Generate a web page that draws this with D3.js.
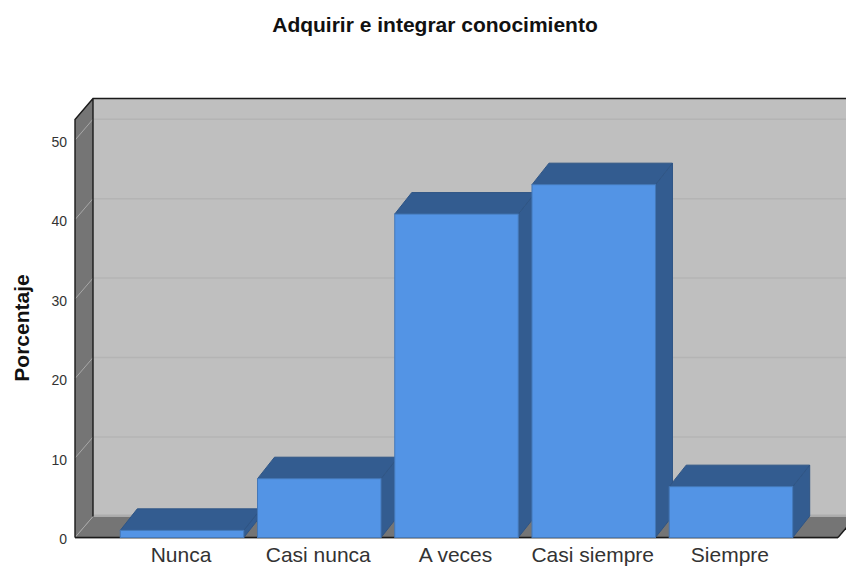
<!DOCTYPE html>
<html><head><meta charset="utf-8">
<script src="https://cdn.jsdelivr.net/npm/d3@7"></script>
<style>html,body{margin:0;padding:0;background:#fff}svg{display:block}text{font-family:"Liberation Sans",Arial,sans-serif}</style>
</head><body><svg id="c" width="846" height="567"></svg>
<script>
const categories = ["Nunca","Casi nunca","A veces","Casi siempre","Siempre"];
const values = [0.9,7.4,40.7,44.4,6.4];
const yTicks = [0,10,20,30,40,50];
const yTitle = "Porcentaje";
const chartTitle = "Adquirir e integrar conocimiento";

const dx = 18, dy = -21, barDx = 17, barDy = -21.5;
const svg = d3.select("#c");
const x = d3.scaleBand().domain(categories).range([75,838]).paddingInner(0.1).paddingOuter(0.33);
const y = d3.scaleLinear().domain([0,52.6]).range([537.5,119.5]);
const y0 = y(0), yT = y(52.6), xL = 75, xR = 838;
const poly = p => p.map(q=>q.join(",")).join(" ");

svg.append("polygon").attr("points",poly([[xL+dx,yT+dy],[xR+dx,yT+dy],[xR+dx,y0+dy],[xL+dx,y0+dy]])).attr("fill","#bfbfbf");
svg.append("polygon").attr("points",poly([[xL,yT],[xL+dx,yT+dy],[xL+dx,y0+dy],[xL,y0]])).attr("fill","#757575");
svg.append("polygon").attr("points",poly([[xL,y0],[xL+dx,y0+dy],[xR+dx,y0+dy],[xR,y0]])).attr("fill","#757575");
svg.append("line").attr("x1",xL+dx+1).attr("x2",xR+dx).attr("y1",y0+dy-1).attr("y2",y0+dy-1).attr("stroke","#adadad").attr("stroke-width",2);
yTicks.forEach(t=>{
  svg.append("line").attr("x1",xL).attr("y1",y(t)).attr("x2",xL+dx).attr("y2",y(t)+dy).attr("stroke","#a8a8a8").attr("stroke-width",1);
  if(t>0) svg.append("line").attr("x1",xL+dx).attr("y1",y(t)+dy).attr("x2",xR+dx).attr("y2",y(t)+dy).attr("stroke","#b4b4b4").attr("stroke-width",1.5);
});
const frame = "#1a1a1a";
svg.append("path").attr("fill","none").attr("stroke",frame).attr("stroke-width",1.4)
  .attr("d",`M${xL},${y0}L${xL},${yT}L${xL+dx},${yT+dy}L${xR+dx},${yT+dy}M${xL+dx},${yT+dy}L${xL+dx},${y0+dy}`);
svg.append("line").attr("x1",xL).attr("x2",xR).attr("y1",y0).attr("y2",y0).attr("stroke",frame).attr("stroke-width",1.4);
svg.append("line").attr("x1",xR).attr("x2",xR+dx).attr("y1",y0).attr("y2",y0+dy).attr("stroke",frame).attr("stroke-width",1.4);
svg.append("line").attr("x1",xL).attr("x2",xR).attr("y1",y0+1).attr("y2",y0+1).attr("stroke","#a0a0a0").attr("stroke-width",1);

const bars = svg.selectAll("g.bar").data(categories.map((c,i)=>({c,v:values[i]}))).join("g").attr("class","bar");
bars.append("polygon").attr("fill","#335c90").attr("stroke","#2f5585").attr("stroke-width",1)
  .attr("points",d=>{const a=x(d.c),b=a+x.bandwidth(),t=y(d.v);return poly([[b,t],[b+barDx,t+barDy],[b+barDx,y0+barDy],[b,y0]]);});
bars.append("polygon").attr("fill","#335c90").attr("stroke","#2f5585").attr("stroke-width",1)
  .attr("points",d=>{const a=x(d.c),b=a+x.bandwidth(),t=y(d.v);return poly([[a,t],[a+barDx,t+barDy],[b+barDx,t+barDy],[b,t]]);});
bars.append("rect").attr("x",d=>x(d.c)).attr("y",d=>y(d.v)).attr("width",x.bandwidth()).attr("height",d=>y0-y(d.v))
  .attr("fill","#5394e5").attr("stroke","#4478b8").attr("stroke-width",1);

svg.selectAll("text.yt").data(yTicks).join("text").attr("class","yt")
  .attr("x",67).attr("y",d=>y(d)+6.5).attr("text-anchor","end").attr("font-size",14).attr("fill","#333").text(d=>d);
svg.selectAll("text.xt").data(categories).join("text").attr("class","xt")
  .attr("x",d=>x(d)+x.bandwidth()/2-1).attr("y",562).attr("text-anchor","middle").attr("font-size",21).attr("fill","#333").text(d=>d);
svg.append("text").attr("x",435).attr("y",32).attr("text-anchor","middle").attr("font-size",21).attr("font-weight","bold").attr("fill","#111").text(chartTitle);
svg.append("text").attr("transform","translate(29,328) rotate(-90)").attr("text-anchor","middle").attr("font-size",21).attr("font-weight","bold").attr("fill","#111").text(yTitle);
</script></body></html>
